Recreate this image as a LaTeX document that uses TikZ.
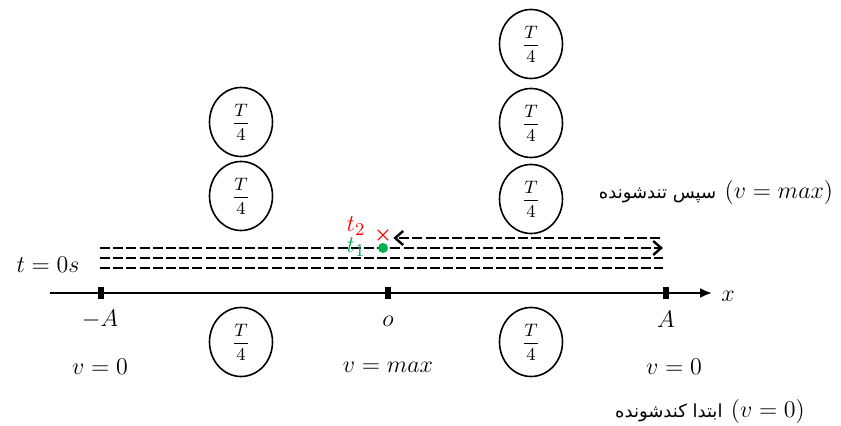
\documentclass[tikz,border=0pt]{standalone}
\usepackage{amsmath}
\usepackage{fontspec}
\usepackage{tikz}
\usetikzlibrary{arrows.meta}
\usetikzlibrary{shapes.geometric}
\newfontfamily\farsifont[Script=Arabic]{DejaVu Sans}
\TeXXeTstate=1
\definecolor{tgreen}{RGB}{0,176,80}
\definecolor{tred}{RGB}{255,0,0}
\tikzset{
    quarter/.style={
        draw,
        ellipse,
        thick,
        minimum width=31.5pt,
        minimum height=34.5pt,
        inner sep=0pt,
        font=\fontsize{9}{11}\selectfont
    },
    axistick/.style={
        fill=black,
        rectangle,
        minimum width=2.6pt,
        minimum height=6pt,
        inner sep=0pt
    },
    trace/.style={
        line width=1.2pt,
        dash pattern=on 5pt off 1.6pt
    }
}
\tikzset{
  every node/.style={font=\fontsize{13}{15}\selectfont}
}

\begin{document}
\begin{tikzpicture}[x=0.5pt, y=-0.5pt]
  \useasboundingbox (0,0) rectangle (841,426);

  % axis
  \coordinate (xstart) at (50,293);
  \coordinate (xend) at (712,293);
  \draw[line width=1.1pt, -{Latex[length=6pt, width=5pt]}] (xstart) -- (xend);
  \node (xlab) at (728,296) {$x$};

  \node[axistick] (mA) at (101,293) {};
  \node[axistick] (o) at (388,293) {};
  \node[axistick] (pA) at (666,293) {};

  \node (mAlab) at (100,319) {$-A$};
  \node (olab) at (388,321) {$o$};
  \node (pAlab) at (666,319) {$A$};

  \node (v1) at (100,367) {$v = 0$};
  \node (v2) at (388,367) {$v = max$};
  \node (v3) at (674,367) {$v = 0$};

  % T/4 circles
  \foreach \name/\x/\y in {l1/241/122, l2/241/196, l3/241/342,
                           r1/531/44, r2/531/123, r3/531/199, r4/531/342} {
    \node[quarter] (\name) at (\x,\y) {$\dfrac{T}{4}$};
  }

  % the oscillation path
  \node (t0) at (48,265) {$t = 0s$};
  \foreach \i/\y in {1/248, 2/258, 3/268} {
    \coordinate (s\i) at (100,\y);
    \coordinate (e\i) at (663,\y);
  }
  \draw[trace] (s2) -- (e2);
  \draw[trace] (s3) -- (e3);
  \draw[trace, -{Straight Barb[length=4pt, width=7pt]}] (s1) -- (e1);

  \node[circle, fill=tgreen, inner sep=0pt, minimum size=5pt] (dot) at (383,248) {};
  \node[text=tgreen] (t1) at (356,247) {$t_1$};
  \node[text=tred, inner sep=0.5pt, font=\fontsize{10}{12}\selectfont] (cross) at (383,236) {$\boldsymbol{\times}$};
  \node[text=tred] (t2) at (356,226) {$t_2$};
  \coordinate (back) at (660,238);
  \draw[trace, -{Straight Barb[length=4pt, width=7pt]}] (back) -- (cross.east |- back);

  % notes
  \node (note1) at (716,193) {{\farsifont\fontsize{9}{11}\selectfont\beginR سپس تندشونده\endR}\ $(v = max)$};
  \node (note2) at (710,412) {{\farsifont\fontsize{9}{11}\selectfont\beginR ابتدا کندشونده\endR}\ $(v = 0)$};
\end{tikzpicture}
\end{document}
